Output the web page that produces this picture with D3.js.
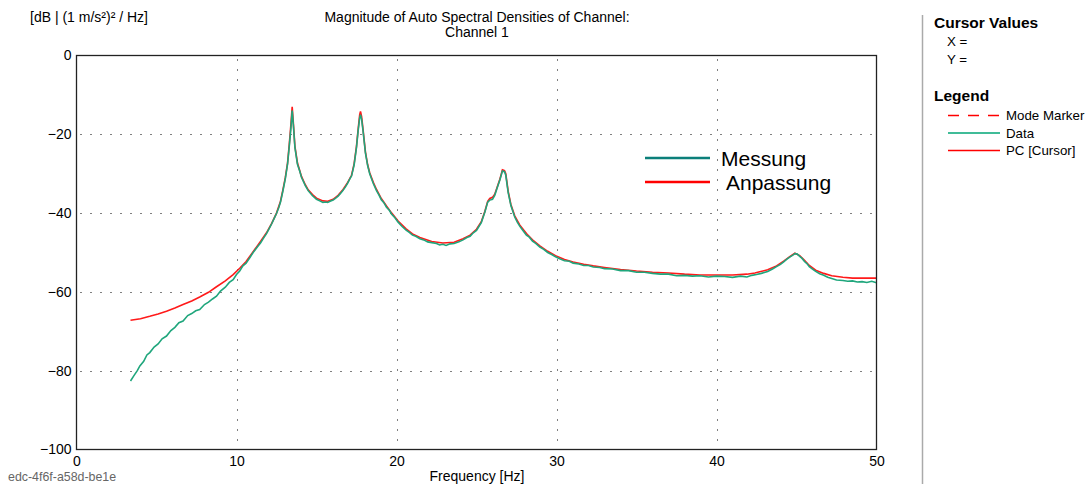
<!DOCTYPE html>
<html>
<head>
<meta charset="utf-8">
<script src="https://cdn.jsdelivr.net/npm/d3@7"></script>
<style>
    body { margin: 0; background: #fff; }
    svg { display: block; font-family: "Liberation Sans", Arial, sans-serif; }
</style>
</head>
<body>
<svg id="chart" width="1088" height="484"></svg>
<script>
/*jslint browser: true*/
/*global d3*/

// axis ticks
var xTicks = [0, 10, 20, 30, 40, 50];
var yTicks = [0, -20, -40, -60, -80, -100];

// PC [Cursor] - fitted curve (red)
var fitFreq = [3.375, 4.0, 4.58, 5.1, 5.625, 6.15, 6.66, 7.2, 7.7, 8.25, 8.75, 9.3, 9.79, 10.2, 10.6,
    11.04, 11.5, 11.875, 12.2, 12.5, 12.75, 12.9, 13.05, 13.19, 13.3, 13.4, 13.48, 13.56, 13.65, 13.81,
    14.06, 14.3, 14.48, 14.75, 15.0, 15.4, 15.7, 16.04, 16.35, 16.66, 16.95, 17.19, 17.35, 17.5, 17.6,
    17.7, 17.75, 17.82, 17.91, 18.06, 18.2, 18.33, 18.55, 18.75, 19.05, 19.375, 19.7, 20.1, 20.6, 21.0,
    21.46, 22.2, 22.9, 23.6, 24.16, 24.6, 25.0, 25.3, 25.52, 25.7, 25.83, 26.0, 26.14, 26.3, 26.46,
    26.62, 26.75, 26.83, 26.98, 27.15, 27.39, 27.7, 28.12, 28.5, 28.96, 29.45, 29.94, 30.5, 31.04, 31.7,
    32.3, 33.0, 34.0, 35.0, 36.0, 37.0, 38.0, 38.96, 40.0, 41.0, 41.9, 42.4, 42.7, 43.2, 43.75,
    44.2, 44.6, 44.9, 45.2, 45.5, 45.8, 46.2, 46.7, 47.2, 47.9, 48.5, 49.2, 50.0];
var fitDb = [-67.2, -66.8, -66.2, -65.6, -64.9, -64.1, -63.2, -62.3, -61.3, -60.1, -58.7, -57.2, -55.6, -54.0, -52.3,
    -49.8, -47.2, -45.0, -42.6, -40.0, -37.0, -34.1, -31.0, -27.3, -22.5, -17.5, -13.0, -17.5, -23.0, -27.3,
    -30.7, -32.8, -34.1, -35.3, -36.2, -36.9, -37.0, -36.5, -35.5, -34.0, -32.2, -30.4, -27.5, -23.0, -18.8,
    -15.0, -14.2, -15.5, -18.8, -24.5, -27.8, -29.8, -32.2, -34.0, -36.3, -38.2, -40.0, -42.0, -44.0, -45.3,
    -46.2, -47.2, -47.6, -47.4, -46.5, -45.6, -44.1, -42.2, -39.6, -37.0, -36.3, -36.0, -35.2, -33.3, -31.4,
    -29.0, -29.2, -30.0, -34.5, -37.8, -40.7, -43.0, -45.2, -46.8, -48.3, -49.7, -50.8, -51.8, -52.4, -53.0,
    -53.4, -53.8, -54.3, -54.7, -55.0, -55.2, -55.5, -55.7, -55.7, -55.7, -55.5, -55.2, -54.9, -54.4, -53.4,
    -52.2, -51.0, -50.2, -50.8, -52.0, -53.3, -54.5, -55.3, -55.9, -56.3, -56.5, -56.5, -56.5];

// Data - measured spectrum (green)
var dataFreq = [3.375, 3.6, 3.8, 3.96, 4.2, 4.4, 4.58, 4.85, 5.1, 5.35, 5.625, 5.9, 6.15, 6.4, 6.66,
    6.95, 7.2, 7.45, 7.7, 8.0, 8.25, 8.5, 8.75, 9.0, 9.3, 9.55, 9.79, 10.0, 10.2, 10.4,
    10.6, 10.85, 11.04, 11.3, 11.5, 11.7, 11.875, 12.05, 12.2, 12.35, 12.5, 12.65, 12.75, 12.9, 13.05,
    13.19, 13.3, 13.4, 13.48, 13.56, 13.65, 13.81, 13.95, 14.06, 14.3, 14.48, 14.75, 15.0, 15.2, 15.4,
    15.55, 15.7, 15.85, 16.04, 16.2, 16.35, 16.5, 16.66, 16.8, 16.95, 17.1, 17.19, 17.35, 17.5, 17.6,
    17.7, 17.75, 17.82, 17.91, 18.06, 18.2, 18.33, 18.55, 18.75, 18.9, 19.05, 19.2, 19.375, 19.55, 19.7,
    19.9, 20.1, 20.35, 20.6, 20.8, 21.0, 21.2, 21.46, 21.7, 21.95, 22.2, 22.5, 22.7, 22.9, 23.1,
    23.35, 23.6, 23.9, 24.16, 24.4, 24.6, 24.8, 25.0, 25.15, 25.3, 25.52, 25.7, 25.83, 26.0, 26.14,
    26.3, 26.46, 26.62, 26.75, 26.83, 26.98, 27.15, 27.39, 27.55, 27.7, 27.9, 28.12, 28.3, 28.5, 28.7,
    28.96, 29.2, 29.45, 29.7, 29.94, 30.2, 30.5, 30.8, 31.04, 31.4, 31.7, 32.0, 32.3, 32.7, 33.0,
    33.5, 34.0, 34.5, 35.0, 35.5, 36.0, 36.5, 37.0, 37.5, 38.0, 38.5, 38.96, 39.5, 40.0, 40.5,
    41.0, 41.5, 41.9, 42.2, 42.5, 42.8, 43.2, 43.5, 43.75, 44.0, 44.2, 44.4, 44.6, 44.8, 44.9,
    45.05, 45.2, 45.35, 45.5, 45.65, 45.8, 46.0, 46.2, 46.45, 46.7, 46.95, 47.2, 47.5, 47.9, 48.2,
    48.5, 48.8, 49.1, 49.4, 49.7, 50.0];
var dataDb = [-82.6, -81.2, -80.0, -78.8, -77.6, -76.0, -75.4, -74.0, -73.2, -71.9, -71.2, -69.8, -69.0, -67.8, -67.4,
    -66.0, -65.5, -64.8, -64.5, -63.2, -62.6, -61.8, -61.1, -59.8, -58.8, -57.6, -56.9, -55.6, -54.7, -53.4,
    -52.7, -51.2, -50.0, -48.6, -47.6, -46.3, -45.2, -43.9, -42.7, -41.4, -40.1, -38.5, -37.2, -34.4, -31.3,
    -27.6, -23.0, -18.5, -14.0, -18.0, -23.3, -27.6, -29.3, -30.9, -33.0, -34.3, -35.6, -36.5, -36.9, -37.3,
    -37.2, -37.3, -37.0, -36.7, -36.2, -35.7, -35.0, -34.2, -33.4, -32.4, -31.2, -30.6, -27.8, -23.3, -19.2,
    -15.8, -15.0, -16.2, -19.2, -24.8, -28.0, -30.1, -32.5, -34.3, -35.4, -36.6, -37.3, -38.5, -39.3, -40.3,
    -41.2, -42.3, -43.4, -44.3, -44.9, -45.6, -45.9, -46.5, -46.8, -47.3, -47.5, -47.7, -48.1, -47.9, -48.2,
    -47.8, -47.7, -47.3, -46.8, -46.2, -45.9, -45.0, -44.4, -43.4, -42.4, -39.8, -37.2, -36.7, -36.5, -35.5,
    -33.5, -31.6, -29.3, -29.5, -30.4, -34.8, -38.1, -41.0, -42.3, -43.3, -44.4, -45.6, -46.1, -47.1, -47.7,
    -48.6, -49.2, -50.0, -50.5, -51.1, -51.6, -52.1, -52.2, -52.7, -52.9, -53.3, -53.3, -53.7, -53.8, -54.1,
    -54.2, -54.6, -54.6, -55.0, -55.0, -55.3, -55.5, -55.5, -55.9, -55.8, -56.0, -55.9, -56.2, -56.0, -56.1,
    -56.3, -56.0, -56.2, -55.8, -55.6, -55.3, -54.8, -54.2, -53.6, -53.0, -52.4, -51.7, -51.1, -50.6, -50.3,
    -50.4, -51.0, -51.5, -52.3, -52.8, -53.6, -54.2, -54.8, -55.4, -55.8, -56.3, -56.6, -57.0, -57.1, -57.3,
    -57.2, -57.5, -57.4, -57.6, -57.3, -57.7];

// legends
var panelLegend = [
    {label: "Mode Marker", color: "#ff0000", dash: "11,9"},
    {label: "Data", color: "#00a676", dash: null},
    {label: "PC [Cursor]", color: "#ff0000", dash: null}
];
var overlayLegend = [
    {label: "Messung", color: "#0b7f7a", dx: 0},
    {label: "Anpassung", color: "#ff0000", dx: 5}
];

(function () {
    "use strict";
    var svg = d3.select("#chart"),
        xScale = d3.scaleLinear().domain([0, 50]).range([76.5, 876.5]),
        yScale = d3.scaleLinear().domain([-100, 0]).range([449.5, 55.5]),
        fontFamily = "\"Liberation Sans\", Arial, sans-serif",
        plot,
        line,
        fitPoints,
        dataPoints;

    function zipSeries(freqs, vals) {
        return freqs.map(function (f, i) {
            return {x: f, y: vals[i]};
        });
    }

    fitPoints = zipSeries(fitFreq, fitDb);
    dataPoints = zipSeries(dataFreq, dataDb);

    //titles
    svg.append("text")
        .attr("x", 477).attr("y", 22)
        .attr("text-anchor", "middle")
        .attr("font-size", 14)
        .text("Magnitude of Auto Spectral Densities of Channel:");
    svg.append("text")
        .attr("x", 477).attr("y", 37)
        .attr("text-anchor", "middle")
        .attr("font-size", 14)
        .text("Channel 1");
    svg.append("text")
        .attr("x", 30).attr("y", 22)
        .attr("font-size", 14)
        .text("[dB | (1 m/s²)² / Hz]");

    plot = svg.append("g");

    //dotted grid
    plot.selectAll(".hgrid")
        .data(yTicks.slice(1, -1))
        .enter().append("line")
        .attr("x1", xScale(0)).attr("x2", xScale(50))
        .attr("y1", function (d) { return Math.round(yScale(d)) + 0.5; })
        .attr("y2", function (d) { return Math.round(yScale(d)) + 0.5; })
        .attr("stroke", "#000")
        .attr("stroke-dasharray", "1,9")
        .attr("stroke-dashoffset", -4);
    plot.selectAll(".vgrid")
        .data(xTicks.slice(1, -1))
        .enter().append("line")
        .attr("y1", yScale(0)).attr("y2", yScale(-100))
        .attr("x1", function (d) { return Math.round(xScale(d)) + 0.5; })
        .attr("x2", function (d) { return Math.round(xScale(d)) + 0.5; })
        .attr("stroke", "#000")
        .attr("stroke-dasharray", "1,9")
        .attr("stroke-dashoffset", -4);

    //curves, fit first so the data sits on top
    line = d3.line()
        .x(function (d) { return xScale(d.x); })
        .y(function (d) { return yScale(d.y); });

    plot.append("path")
        .datum(fitPoints)
        .attr("d", line)
        .attr("fill", "none")
        .attr("stroke", "#ff1a1a")
        .attr("stroke-width", 1.6);
    plot.append("path")
        .datum(dataPoints)
        .attr("d", line)
        .attr("fill", "none")
        .attr("stroke", "#1fa67c")
        .attr("stroke-width", 1.6);

    //frame
    plot.append("rect")
        .attr("x", xScale(0)).attr("y", yScale(0))
        .attr("width", xScale(50) - xScale(0))
        .attr("height", yScale(-100) - yScale(0))
        .attr("fill", "none")
        .attr("stroke", "#222")
        .attr("stroke-width", 1.3);

    //axes - labels only
    plot.append("g")
        .attr("transform", "translate(" + xScale(0) + ",0)")
        .call(d3.axisLeft(yScale).tickValues(yTicks).tickSize(0).tickPadding(5))
        .call(function (g) { g.select(".domain").remove(); })
        .selectAll("text")
        .attr("font-size", 14)
        .attr("font-family", fontFamily)
        .attr("fill", "#000");
    plot.append("g")
        .attr("transform", "translate(0," + yScale(-100) + ")")
        .call(d3.axisBottom(xScale).tickValues(xTicks).tickSize(0).tickPadding(7))
        .call(function (g) { g.select(".domain").remove(); })
        .selectAll("text")
        .attr("font-size", 14)
        .attr("font-family", fontFamily)
        .attr("fill", "#000");

    svg.append("text")
        .attr("x", 477).attr("y", 480.5)
        .attr("text-anchor", "middle")
        .attr("font-size", 14)
        .text("Frequency [Hz]");
    svg.append("text")
        .attr("x", 8).attr("y", 481)
        .attr("font-size", 12.4)
        .attr("fill", "#666")
        .text("edc-4f6f-a58d-be1e");

    //overlay legend in the plot
    overlayLegend.forEach(function (item, i) {
        var yy = 158 + i * 24;
        plot.append("line")
            .attr("x1", 645).attr("x2", 710)
            .attr("y1", yy).attr("y2", yy)
            .attr("stroke", item.color)
            .attr("stroke-width", 2.5);
        plot.append("text")
            .attr("x", 721 + item.dx).attr("y", yy)
            .attr("dy", "0.36em")
            .attr("font-size", 21)
            .text(item.label);
    });

    //side panel
    svg.append("line")
        .attr("x1", 922.5).attr("x2", 922.5)
        .attr("y1", 15).attr("y2", 484)
        .attr("stroke", "#aaa")
        .attr("stroke-width", 1.5);
    svg.append("text")
        .attr("x", 934).attr("y", 28)
        .attr("font-size", 15.5).attr("font-weight", "bold")
        .text("Cursor Values");
    svg.append("text")
        .attr("x", 947).attr("y", 46)
        .attr("font-size", 13.3)
        .text("X =");
    svg.append("text")
        .attr("x", 947).attr("y", 64)
        .attr("font-size", 13.3)
        .text("Y =");
    svg.append("text")
        .attr("x", 934).attr("y", 101)
        .attr("font-size", 15.5).attr("font-weight", "bold")
        .text("Legend");

    panelLegend.forEach(function (item, i) {
        var yy = 115.5 + i * 17.5;
        svg.append("line")
            .attr("x1", 948).attr("x2", 1000)
            .attr("y1", yy).attr("y2", yy)
            .attr("stroke", item.color)
            .attr("stroke-width", 1.3)
            .attr("stroke-dasharray", item.dash);
        svg.append("text")
            .attr("x", 1006).attr("y", yy)
            .attr("dy", "0.36em")
            .attr("font-size", 13.3)
            .text(item.label);
    });
}());
</script>
</body>
</html>
